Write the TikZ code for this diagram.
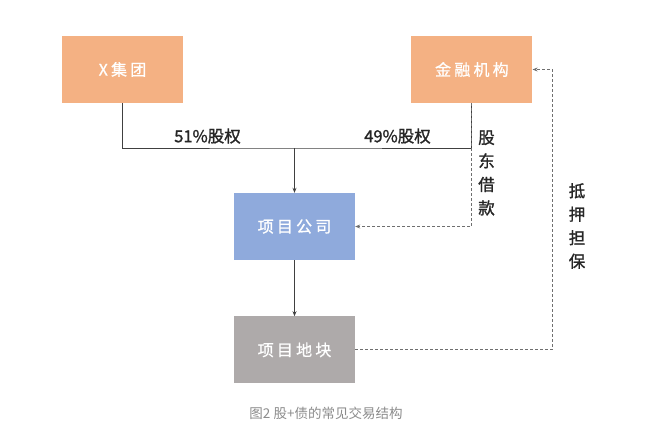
\documentclass[tikz,border=0pt]{standalone}
\usepackage{fontspec}
\usepackage{xcolor}
\usetikzlibrary{arrows.meta,positioning,calc}
\newfontfamily\cjk{Noto Sans CJK SC}
\newfontfamily\cjkbold[FakeBold=1.3]{Noto Sans CJK SC}
\newfontfamily\cjkwide[LetterSpace=20,FakeBold=0.8]{Noto Sans CJK SC}
\definecolor{BoxOrange}{HTML}{F4B183}
\definecolor{BoxBlue}{HTML}{8FAADC}
\definecolor{BoxGray}{HTML}{AEAAAA}
\definecolor{LineDark}{HTML}{404040}
\definecolor{DashGray}{HTML}{6F6F6F}
\definecolor{CaptionGray}{HTML}{8C8C8C}
\tikzset{
  entitybox/.style={draw=none, minimum width=121pt, minimum height=67pt, inner sep=0pt, text=white, font=\cjkwide\fontsize{16}{18}\selectfont},
  orangebox/.style={entitybox, fill=BoxOrange},
  bluebox/.style={entitybox, fill=BoxBlue},
  graybox/.style={entitybox, fill=BoxGray},
  flowlabel/.style={inner sep=0pt, align=center, text=black!85, font=\cjkbold\fontsize{16.5}{23.5}\selectfont},
  solidline/.style={line width=1pt, draw=LineDark},
  arrow/.style={-{Stealth[length=5pt,width=4pt]}, line width=1pt, draw=LineDark},
  dasharrow/.style={-{Stealth[length=5pt,width=4pt]}, line width=1.1pt, draw=DashGray, dash pattern=on 3pt off 2pt}
}
\begin{document}
\begin{tikzpicture}[x=1pt, y=-1pt]
    \useasboundingbox[fill=white] (0,0) rectangle (650,444);
    % shareholders
    \node[orangebox] (xgroup) at (122.5,69.5) {X集团};
    \node[orangebox, right=228pt of xgroup] (finance) {金融机构};
    % project side
    \node[bluebox] (projco) at (294.5,226.5) {项目公司};
    \node[graybox, below=56pt of projco] (land) {项目地块};

    % equity structure
    \coordinate (split) at (294.5,148);
    \draw[solidline] (xgroup.south) |- (split) -| (finance.south);
    \draw[arrow] (split) -- (projco);
    \draw[arrow] (projco) -- (land);
    \node[flowlabel] (share51) at (207.5,136) {51\%股权};
    \node[flowlabel] (share49) at (397.5,136) {49\%股权};

    % loan and collateral
    \draw[dasharrow] (finance.south) |- (projco.east);
    \draw[dasharrow] (land.east) -- ++(197,0) |- (finance.east);
    \node[flowlabel] (loan) at (486.5,173) {股\\东\\借\\款};
    \node[flowlabel] (pledge) at (577,226) {抵\\押\\担\\保};

    \node[font=\cjk\fontsize{13.5}{16}\selectfont, text=CaptionGray] (caption) at (326,413) {图2\ 股+债的常见交易结构};
  \end{tikzpicture}
\end{document}
